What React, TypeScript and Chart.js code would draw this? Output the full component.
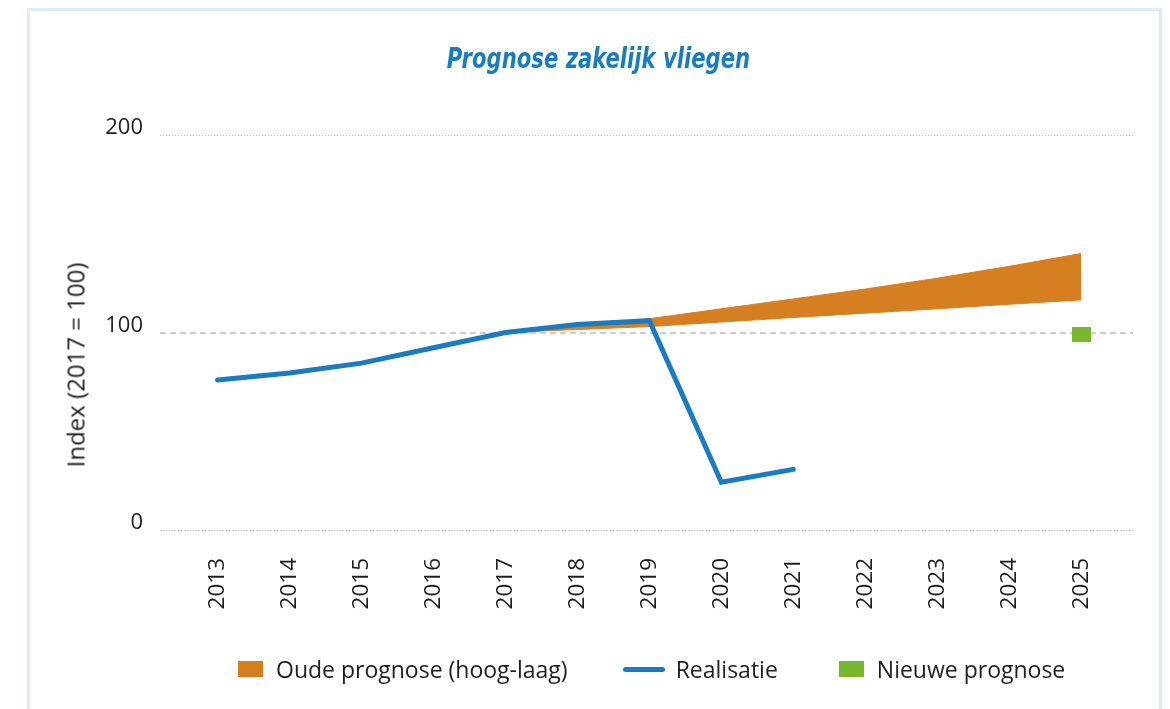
import React, { useEffect, useRef } from "react";
import { Chart, registerables } from "chart.js";

Chart.register(...registerables);

// ---- Data ----
const years = [2013, 2014, 2015, 2016, 2017, 2018, 2019, 2020, 2021, 2022, 2023, 2024, 2025];
const realisatieYears = [2013, 2014, 2015, 2016, 2017, 2018, 2019, 2020, 2021];
const realisatie = [76, 79.5, 84.5, 92.3, 100, 104, 106, 24.2, 30.7];
const prognoseYears = [2017, 2018, 2019, 2020, 2021, 2022, 2023, 2024, 2025];
const oudeHoog = [100, 103.5, 107, 112, 117, 122, 127.5, 133.5, 140];
const oudeLaag = [100, 101.5, 103, 105.3, 107.6, 109.8, 112, 114.3, 116.5];
const nieuwePrognoseYears = [2025];
const nieuwePrognose = [99];
const yTicks = [0, 100, 200];

const TITLE = "Prognose zakelijk vliegen";
const Y_TITLE = "Index (2017 = 100)";
const LEGEND_OUD = "Oude prognose (hoog-laag)";
const LEGEND_REAL = "Realisatie";
const LEGEND_NIEUW = "Nieuwe prognose";

const BLUE = "#1a7bc0";
const ORANGE = "#d67f20";
const GREEN = "#79b82e";
const TEXT = "#1e1e1e";
const FONT = "'Open Sans', sans-serif";

function makeGreenMarker(): HTMLCanvasElement {
  const c = document.createElement("canvas");
  c.width = 19;
  c.height = 15;
  const ctx = c.getContext("2d");
  if (ctx) {
    ctx.fillStyle = GREEN;
    ctx.fillRect(0, 0, 19, 15);
  }
  return c;
}

export default function App() {
  const canvasRef = useRef<HTMLCanvasElement | null>(null);

  useEffect(() => {
    if (!canvasRef.current) return;
    const marker = makeGreenMarker();
    const chart = new Chart(canvasRef.current, {
      type: "line",
      data: {
        datasets: [
          {
            label: LEGEND_REAL,
            data: realisatieYears.map((x, i) => ({ x, y: realisatie[i] })),
            borderColor: BLUE,
            borderWidth: 5,
            pointRadius: 0,
            fill: false,
            tension: 0,
            borderCapStyle: "round",
          },
          {
            label: "hoog",
            data: prognoseYears.map((x, i) => ({ x, y: oudeHoog[i] })),
            borderColor: ORANGE,
            borderWidth: 1,
            pointRadius: 0,
            fill: false,
          },
          {
            label: "laag",
            data: prognoseYears.map((x, i) => ({ x, y: oudeLaag[i] })),
            borderColor: ORANGE,
            backgroundColor: ORANGE,
            borderWidth: 1,
            pointRadius: 0,
            fill: 1,
          },
          {
            label: LEGEND_NIEUW,
            data: nieuwePrognoseYears.map((x, i) => ({ x, y: nieuwePrognose[i] })),
            showLine: false,
            pointStyle: marker as any,
            pointRadius: 8,
            backgroundColor: GREEN,
            borderColor: GREEN,
          },
        ],
      },
      options: {
        animation: false,
        responsive: false,
        maintainAspectRatio: false,
        layout: { padding: { left: 105, right: 37, top: 135, bottom: 0 } },
        plugins: {
          legend: { display: false },
          title: { display: false },
          tooltip: { enabled: false },
        },
        scales: {
          x: {
            type: "linear",
            min: 2012.2,
            max: 2025.72,
            afterBuildTicks: (scale: any) => {
              scale.ticks = years.map((v) => ({ value: v }));
            },
            afterFit: (scale: any) => {
              scale.height = 179;
            },
            grid: { display: false, drawTicks: false },
            border: { display: false },
            ticks: {
              autoSkip: false,
              maxRotation: 90,
              minRotation: 90,
              padding: 28,
              color: TEXT,
              font: { family: FONT, size: 22.5 },
              callback: (v: any) => String(v),
            },
          },
          y: {
            min: 0,
            max: 200,
            afterBuildTicks: (scale: any) => {
              scale.ticks = yTicks.map((v) => ({ value: v }));
            },
            afterFit: (scale: any) => {
              scale.width = 55;
            },
            grid: {
              drawTicks: false,
              color: (ctx: any) => (ctx.tick && ctx.tick.value === 100 ? "#cfcfcf" : "#bdbdbd"),
              lineWidth: (ctx: any) => (ctx.tick && ctx.tick.value === 100 ? 2 : 1),
            },
            border: {
              display: false,
              dash: (ctx: any) => (ctx.tick && ctx.tick.value === 100 ? [6, 4] : [1, 2]),
            } as any,
            ticks: {
              padding: 17,
              labelOffset: -7,
              color: TEXT,
              font: { family: FONT, size: 22 },
              callback: (v: any) => String(v),
            },
          },
        },
      } as any,
    });
    return () => chart.destroy();
  }, []);

  const legendText: React.CSSProperties = {
    fontFamily: FONT,
    fontSize: 23,
    color: TEXT,
    whiteSpace: "nowrap",
    lineHeight: "24px",
  };

  return (
    <div
      style={{
        position: "absolute",
        left: 0,
        top: 0,
        width: 1170,
        height: 709,
        overflow: "hidden",
        background: "#ffffff",
      }}
    >
      <div
        style={{
          position: "absolute",
          left: 27,
          top: 8,
          width: 1135,
          height: 720,
          boxSizing: "border-box",
          border: "3px solid #dcedf9",
        }}
      />
      <canvas
        ref={canvasRef}
        width={1170}
        height={709}
        style={{ position: "absolute", left: 0, top: 0, width: 1170, height: 709 }}
      />
      <div
        style={{
          position: "absolute",
          left: 0,
          width: 1197,
          top: 42,
          textAlign: "center",
          transform: "scaleX(0.84)",
          transformOrigin: "598.5px 0",
          fontFamily: "'Liberation Sans Narrow', 'DejaVu Sans Condensed', sans-serif",
          fontWeight: "bold",
          fontStyle: "italic",
          fontSize: 28,
          color: BLUE,
          whiteSpace: "nowrap",
        }}
      >
        {TITLE}
      </div>
      <div
        style={{
          position: "absolute",
          left: 75,
          top: 365,
          transform: "translate(-50%, -50%) rotate(-90deg)",
          fontFamily: FONT,
          fontSize: 24,
          color: TEXT,
          whiteSpace: "nowrap",
        }}
      >
        {Y_TITLE}
      </div>
      <div style={{ position: "absolute", left: 238, top: 657, height: 24, display: "flex", alignItems: "center" }}>
        <div style={{ width: 25, height: 16, background: ORANGE }} />
        <div style={{ ...legendText, marginLeft: 13 }}>{LEGEND_OUD}</div>
        <div style={{ width: 42, height: 5, borderRadius: 3, background: BLUE, marginLeft: 55 }} />
        <div style={{ ...legendText, marginLeft: 11 }}>{LEGEND_REAL}</div>
        <div style={{ width: 25, height: 16, background: GREEN, marginLeft: 61 }} />
        <div style={{ ...legendText, marginLeft: 13 }}>{LEGEND_NIEUW}</div>
      </div>
    </div>
  );
}
